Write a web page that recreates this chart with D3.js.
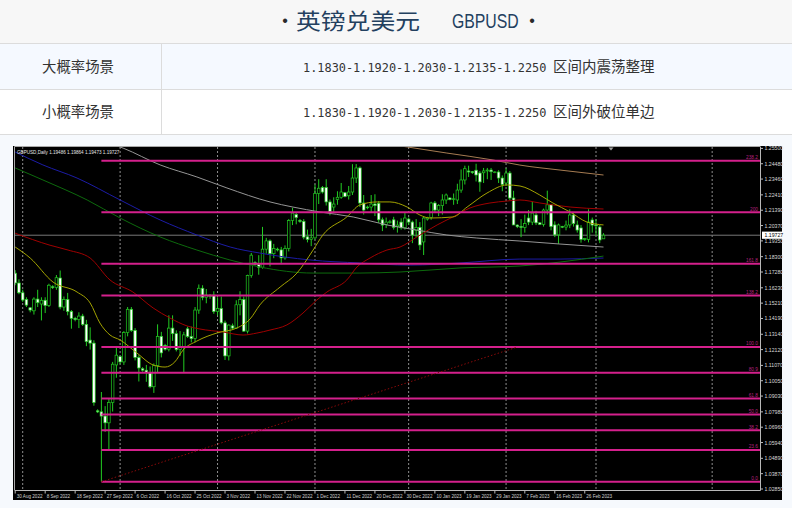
<!DOCTYPE html>
<html><head><meta charset="utf-8">
<script src="https://cdn.jsdelivr.net/npm/d3@7"></script>
<style>html,body{margin:0;padding:0;background:#fff;}svg{display:block;}</style>
</head><body><svg id="c" width="792" height="508"></svg>
<script>
// ---------------- DATA ----------------
const titleCn = '英镑兑美元';
const titleEn = 'GBPUSD';
const rowNames = ['大概率场景', '小概率场景'];
const rowLevels = ['1.1830-1.1920-1.2030-1.2135-1.2250', '1.1830-1.1920-1.2030-1.2135-1.2250'];
const rowViews = ['区间内震荡整理', '区间外破位单边'];

const open = [1.1720,1.1655,1.1590,1.1545,1.1490,1.1470,1.1548,1.1515,1.1540,1.1505,1.1630,1.1625,1.1688,1.1495,1.1545,1.1465,1.1420,1.1412,1.1435,1.1380,1.1275,1.1255,1.0805,1.0798,1.0770,1.0725,1.0860,1.1110,1.1165,1.1130,1.1325,1.1480,1.1340,1.1160,1.1085,1.1075,1.1060,1.0965,1.1105,1.1300,1.1240,1.1215,1.1355,1.1318,1.1212,1.1225,1.1350,1.1300,1.1285,1.1475,1.1620,1.1560,1.1565,1.1575,1.1465,1.1485,1.1390,1.1170,1.1370,1.1355,1.1510,1.1545,1.1335,1.1705,1.1790,1.1778,1.1760,1.1880,1.1935,1.1850,1.1880,1.1875,1.1822,1.1885,1.2070,1.2110,1.2070,1.2065,1.1962,1.1945,1.1955,1.2250,1.2290,1.2290,1.2194,1.2160,1.2210,1.2225,1.2255,1.2235,1.2260,1.2353,1.2420,1.2187,1.2160,1.2160,1.2180,1.2185,1.2075,1.2045,1.2060,1.2075,1.2030,1.2060,1.2022,1.2080,1.2060,1.2005,1.2025,1.1928,1.2080,1.2090,1.2187,1.2140,1.2170,1.2207,1.2220,1.2210,1.2207,1.2273,1.2340,1.2400,1.2395,1.2405,1.2386,1.2388,1.2400,1.2406,1.2390,1.2393,1.2353,1.2320,1.2386,1.2220,1.2040,1.2030,1.2025,1.2087,1.2060,1.2107,1.2055,1.2045,1.2140,1.2175,1.2041,1.1975,1.2030,1.2027,1.2041,1.2107,1.2041,1.2021,1.1945,1.1945,1.2074,1.2041,1.2027,1.19486];
const high = [1.1740,1.1680,1.1610,1.1560,1.1495,1.1560,1.1610,1.1560,1.1560,1.1650,1.1640,1.1708,1.1738,1.1565,1.1589,1.1475,1.1430,1.1460,1.1450,1.1410,1.1360,1.1274,1.0815,1.0930,1.0836,1.0890,1.1130,1.1235,1.1170,1.1335,1.1495,1.1495,1.1355,1.1175,1.1095,1.1110,1.1100,1.1120,1.1380,1.1330,1.1250,1.1440,1.1440,1.1340,1.1335,1.1330,1.1365,1.1365,1.1495,1.1645,1.1640,1.1615,1.1580,1.1600,1.1560,1.1565,1.1405,1.1380,1.1385,1.1540,1.1600,1.1565,1.1710,1.1855,1.1800,1.1840,1.2028,1.1955,1.1945,1.1915,1.1890,1.1895,1.1905,1.2080,1.2155,1.2125,1.2080,1.2080,1.2010,1.2015,1.2310,1.2345,1.2300,1.2345,1.2210,1.2225,1.2265,1.2320,1.2260,1.2300,1.2445,1.2446,1.2430,1.2240,1.2170,1.2240,1.2245,1.2200,1.2090,1.2090,1.2075,1.2095,1.2070,1.2085,1.2120,1.2090,1.2070,1.2080,1.2060,1.2100,1.2095,1.2195,1.2200,1.2180,1.2245,1.2250,1.2225,1.2250,1.2315,1.2410,1.2435,1.2435,1.2400,1.2448,1.2400,1.2420,1.2420,1.2420,1.2398,1.2405,1.2370,1.2418,1.2400,1.2268,1.2045,1.2080,1.2110,1.2140,1.2195,1.2135,1.2060,1.2150,1.2269,1.2180,1.2065,1.2050,1.2035,1.2070,1.2145,1.2120,1.2070,1.2040,1.1955,1.2145,1.2090,1.2080,1.2040,1.19864];
const low = [1.1640,1.1580,1.1530,1.1495,1.1460,1.1445,1.1495,1.1406,1.1455,1.1495,1.1615,1.1610,1.1480,1.1470,1.1440,1.1351,1.1400,1.1355,1.1370,1.1235,1.1212,1.0839,1.0790,1.0333,1.0665,1.0539,1.0800,1.1025,1.1115,1.1110,1.1300,1.1330,1.1140,1.1000,1.1065,1.0998,1.0955,1.0924,1.1060,1.1160,1.1205,1.1200,1.1270,1.1200,1.1170,1.1060,1.1290,1.1260,1.1260,1.1450,1.1540,1.1520,1.1550,1.1450,1.1440,1.1380,1.1143,1.1140,1.1345,1.1350,1.1440,1.1330,1.1320,1.1690,1.1770,1.1710,1.1750,1.1850,1.1765,1.1820,1.1865,1.1780,1.1810,1.1865,1.2040,1.2045,1.2055,1.1945,1.1925,1.1900,1.1945,1.2180,1.2250,1.2170,1.2105,1.2125,1.2175,1.2215,1.2225,1.2210,1.2240,1.2320,1.2160,1.2110,1.2145,1.2125,1.2100,1.2055,1.2000,1.2020,1.2050,1.2010,1.1990,1.2010,1.2010,1.2040,1.1920,1.1960,1.1874,1.1841,1.2070,1.2075,1.2120,1.2100,1.2110,1.2180,1.2205,1.2175,1.2180,1.2255,1.2310,1.2360,1.2380,1.2330,1.2262,1.2320,1.2345,1.2340,1.2385,1.2320,1.2265,1.2300,1.2205,1.2040,1.2020,1.1960,1.1990,1.2040,1.2040,1.2040,1.2040,1.2030,1.2110,1.2005,1.1960,1.1915,1.2020,1.2005,1.2020,1.2030,1.1990,1.1923,1.1935,1.1925,1.1990,1.1970,1.1920,1.19473];
const close = [1.1655,1.1590,1.1542,1.1508,1.1475,1.1548,1.1524,1.1540,1.1505,1.1640,1.1625,1.1690,1.1495,1.1545,1.1465,1.1420,1.1412,1.1435,1.1380,1.1265,1.1255,1.0860,1.0798,1.0770,1.0725,1.0860,1.1115,1.1175,1.1130,1.1325,1.1480,1.1340,1.1160,1.1090,1.1075,1.1060,1.0965,1.1105,1.1300,1.1190,1.1215,1.1355,1.1318,1.1212,1.1225,1.1310,1.1300,1.1285,1.1475,1.1620,1.1560,1.1575,1.1575,1.1465,1.1485,1.1390,1.1170,1.1375,1.1355,1.1510,1.1545,1.1335,1.1705,1.1840,1.1778,1.1760,1.1880,1.1935,1.1850,1.1885,1.1875,1.1822,1.1885,1.2070,1.2120,1.2090,1.2065,1.1960,1.1945,1.1955,1.2250,1.2285,1.2260,1.2194,1.2130,1.2180,1.2225,1.2260,1.2230,1.2260,1.2353,1.2420,1.2187,1.2140,1.2155,1.2180,1.2170,1.2075,1.2040,1.2060,1.2062,1.2025,1.2040,1.2022,1.2087,1.2060,1.1974,1.2025,1.1908,1.2087,1.2088,1.2187,1.2140,1.2170,1.2207,1.2240,1.2210,1.2215,1.2273,1.2340,1.2415,1.2393,1.2390,1.2373,1.2327,1.2400,1.2406,1.2395,1.2393,1.2353,1.2310,1.2386,1.2220,1.2041,1.2030,1.2025,1.2050,1.2060,1.2120,1.2055,1.2045,1.2140,1.2175,1.2030,1.1975,1.2041,1.2027,1.2040,1.2107,1.2050,1.2007,1.1945,1.1950,1.2060,1.2040,1.2035,1.1941,1.19727];

// moving averages: [bar index, price]
const maYellow = [[0,1.1894],[4,1.1821],[10.1,1.1661],[16.5,1.1595],[20,1.1522],[22.6,1.1389],[25.3,1.1309],[28,1.1276],[32.5,1.1189],[36.8,1.1110],[40,1.1096],[42.6,1.1130],[44.8,1.1209],[48.5,1.1269],[53.9,1.1323],[59.2,1.1356],[62.7,1.1416],[65.3,1.1509],[70.7,1.1628],[75.2,1.1721],[79.5,1.1874],[82.1,1.1974],[88.5,1.2094],[92,1.2174],[96.6,1.2194],[100,1.2194],[104.6,1.2160],[108,1.2107],[110.7,1.2087],[116.8,1.2094],[120.6,1.2160],[125.9,1.2253],[131.3,1.2307],[134.7,1.2300],[140,1.2240],[143.5,1.2187],[148.1,1.2127],[152.6,1.2060],[157,1.2041]];
const maRed = [[0,1.1986],[9.3,1.1906],[14.1,1.1874],[20,1.1821],[25.3,1.1675],[31.4,1.1595],[36.8,1.1489],[41.3,1.1422],[45.9,1.1369],[49.3,1.1349],[55.5,1.1329],[60.8,1.1309],[64.5,1.1322],[68,1.1342],[72.5,1.1376],[76.8,1.1455],[80.5,1.1542],[83.2,1.1595],[88.5,1.1675],[91.2,1.1761],[94.7,1.1821],[99.2,1.1874],[102.7,1.1894],[107.2,1.1961],[112.6,1.2041],[116.8,1.2094],[121.4,1.2154],[126.7,1.2187],[131.3,1.2200],[134.7,1.2207],[140,1.2187],[148.1,1.2160],[157,1.2147]];
const maGray = [[22.6,1.2606],[28.8,1.2552],[38.7,1.2440],[48.5,1.2360],[56.5,1.2287],[68,1.2194],[74.1,1.2160],[81.4,1.2127],[90.2,1.2094],[99.2,1.2041],[107.2,1.2007],[115.2,1.1974],[123.2,1.1954],[134.7,1.1934],[145.4,1.1914],[157,1.1894]];
const maBrown = [[97.4,1.2586],[104.8,1.2559],[115.2,1.2519],[127.5,1.2473],[134.7,1.2439],[145.4,1.2406],[157,1.2373]];
const maBlue = [[0,1.2526],[7.4,1.2440],[16.5,1.2353],[28,1.2207],[38.7,1.2074],[48.5,1.1974],[57.4,1.1894],[65.3,1.1854],[78.7,1.1808],[92,1.1788],[105.4,1.1774],[118.7,1.1788],[134.7,1.1814],[145.4,1.1814],[157,1.1821]];
const maGreen = [[0,1.2420],[7.4,1.2340],[19.2,1.2207],[28,1.2087],[38.7,1.1961],[48.5,1.1874],[57.3,1.1808],[65.3,1.1761],[79.5,1.1721],[92,1.1721],[102.7,1.1728],[118.7,1.1755],[134.7,1.1768],[145.4,1.1794],[157,1.1834]];

const dateLabels = ['30 Aug 2022','8 Sep 2022','18 Sep 2022','27 Sep 2022','6 Oct 2022','16 Oct 2022','25 Oct 2022','3 Nov 2022','13 Nov 2022','22 Nov 2022','1 Dec 2022','11 Dec 2022','20 Dec 2022','30 Dec 2022','10 Jan 2023','19 Jan 2023','29 Jan 2023','7 Feb 2023','16 Feb 2023','26 Feb 2023'];
const dateLabelIdx = [0,8,16,24,32,40,48,56,64,72,80,88,96,104,112,120,128,136,144,152];
const priceTicks = [1.25500,1.24480,1.23460,1.22410,1.21390,1.20370,1.19350,1.18300,1.17280,1.16230,1.15210,1.14190,1.13140,1.12120,1.11070,1.10050,1.09030,1.07980,1.06960,1.05940,1.04890,1.03870,1.02850];
const separatorIdx = [2,28,54,80,105,131,155,186];
const fibLevels = [0,23.6,38.2,50,61.8,80.9,100,138.2,161.8,200,238.2];
const fibLabels = ['0.0','23.6','38.2','50.0','61.8','80.9','100.0','138.2','161.8','200','238.2'];
const fibLow = 1.0333, fibHigh = 1.1229, fibStartIdx = 23, fibEndIdx = 134;
const lastPrice = 1.19727;
const headerText = 'GBPUSD,Daily  1.19486 1.19864 1.19473 1.19727';

// ---------------- DRAW ----------------
const svg = d3.select('#c');
const CJK = "'Noto Sans CJK SC','Noto Sans',sans-serif";
const LIB = "'Liberation Sans',Arial,sans-serif";

svg.append('rect').attr('width',792).attr('height',508).attr('fill','#f6f9fd');
svg.append('rect').attr('width',792).attr('height',44).attr('fill','#f7f7f7');
svg.append('rect').attr('y',44).attr('width',792).attr('height',46).attr('fill','#f5f9ff');
svg.append('rect').attr('y',90).attr('width',792).attr('height',45).attr('fill','#ffffff');
[43.5,89.5,134.5].forEach(v=>svg.append('line').attr('x1',0).attr('x2',792).attr('y1',v).attr('y2',v).attr('stroke','#dcdcdc'));
svg.append('line').attr('x1',161.5).attr('x2',161.5).attr('y1',44).attr('y2',135).attr('stroke','#dcdcdc');

// title
const tc = '#23405f';
svg.append('text').attr('x',285).attr('y',26).attr('text-anchor','middle').attr('font-family',LIB).attr('font-size',16).attr('fill','#2a2a2a').text('•');
svg.append('text').attr('x',296).attr('y',29).attr('font-family',CJK).attr('font-size',22).attr('fill',tc)
  .attr('textLength',124).attr('lengthAdjust','spacingAndGlyphs').text(titleCn);
svg.append('text').attr('transform','translate(452,28) scale(0.79,1)').attr('font-family',LIB).attr('font-size',20).attr('fill',tc)
  .text(titleEn);
svg.append('text').attr('x',532).attr('y',26).attr('text-anchor','middle').attr('font-family',LIB).attr('font-size',16).attr('fill','#2a2a2a').text('•');

// table rows
[72,117].forEach((by,i)=>{
  svg.append('text').attr('x',42).attr('y',by).attr('font-family',CJK).attr('font-size',14.5).attr('fill','#333')
    .attr('textLength',72).attr('lengthAdjust','spacingAndGlyphs').text(rowNames[i]);
  svg.append('text').attr('x',303).attr('y',by-0.5).attr('font-family',"'DejaVu Sans Mono',monospace").attr('font-size',11.9).attr('fill','#333')
    .text(rowLevels[i]);
  svg.append('text').attr('x',553).attr('y',by).attr('font-family',CJK).attr('font-size',14.5).attr('fill','#333')
    .text(rowViews[i]);
});

// chart
const PL=15, PT=147, PR=760, PB=490;
const x = d3.scaleLinear().domain([0,157]).range([15.2,603.5]);
const y = d3.scaleLinear().domain([1.0285,1.2550]).range([489,148.4]);
const g = svg.append('g');
g.append('rect').attr('x',13).attr('y',146).attr('width',769).attr('height',354).attr('fill','#000');
svg.append('defs').append('clipPath').attr('id','pc').append('rect').attr('x',PL).attr('y',PT).attr('width',PR-PL).attr('height',PB-PT);

// separators
separatorIdx.forEach(i=>g.append('line').attr('x1',x(i)).attr('x2',x(i)).attr('y1',PT).attr('y2',PB)
  .attr('stroke','#8e8e8e').attr('stroke-dasharray','2,2').attr('stroke-width',1));
// last price line
g.append('line').attr('x1',PL).attr('x2',PR).attr('y1',y(lastPrice)).attr('y2',y(lastPrice)).attr('stroke','#777');

// candles
const cg = g.append('g').attr('clip-path','url(#pc)');
const up = '#22cc22';
open.forEach((o,i)=>{
  const c = close[i], cx = x(i);
  cg.append('line').attr('x1',cx).attr('x2',cx).attr('y1',y(high[i])).attr('y2',y(low[i])).attr('stroke',up).attr('stroke-width',1);
  const top = y(Math.max(o,c)), bot = y(Math.min(o,c));
  cg.append('rect').attr('x',cx-1.3).attr('y',top).attr('width',2.6).attr('height',Math.max(0.6,bot-top))
    .attr('fill', c>=o ? '#000' : '#fff').attr('stroke',up).attr('stroke-width',0.7);
});

// moving averages
const line = d3.line().x(d=>x(d[0])).y(d=>y(d[1])).curve(d3.curveMonotoneX);
[[maGray,'#959595'],[maBrown,'#a67c52'],[maBlue,'#1c1ca6'],[maGreen,'#0d6a0d'],[maRed,'#a00000'],[maYellow,'#a3a300']]
 .forEach(([d,col])=>cg.append('path').attr('d',line(d)).attr('fill','none').attr('stroke',col).attr('stroke-width',1));

// fibonacci
const fibPrice = l => fibLow + l/100*(fibHigh-fibLow);
fibLevels.forEach((l,k)=>{
  const yy = y(fibPrice(l));
  g.append('line').attr('x1',x(fibStartIdx)).attr('x2',PR).attr('y1',yy).attr('y2',yy).attr('stroke','#d4208c').attr('stroke-width',2);
  g.append('text').attr('x',758).attr('y',yy-1.8).attr('text-anchor','end').attr('font-family',LIB)
    .attr('font-size',4.8).attr('fill','#b8207e').text(fibLabels[k]);
});
g.append('line').attr('x1',x(fibStartIdx)).attr('y1',y(fibLow)).attr('x2',x(fibEndIdx)).attr('y2',y(fibHigh))
  .attr('stroke','#8a0a0a').attr('stroke-width',1).attr('stroke-dasharray','1.5,2');

// frame
g.append('line').attr('x1',14.5).attr('x2',14.5).attr('y1',146.5).attr('y2',490).attr('stroke','#a8a8a8');
g.append('line').attr('x1',14.5).attr('x2',760).attr('y1',146.5).attr('y2',146.5).attr('stroke','#a8a8a8');
g.append('line').attr('x1',14.5).attr('x2',760.5).attr('y1',490.5).attr('y2',490.5).attr('stroke','#b8b8b8');
g.append('line').attr('x1',760.5).attr('x2',760.5).attr('y1',146.5).attr('y2',490.5).attr('stroke','#b8b8b8');

// price axis
priceTicks.forEach(p=>{
  g.append('line').attr('x1',760.5).attr('x2',763).attr('y1',y(p)).attr('y2',y(p)).attr('stroke','#bbb');
  g.append('text').attr('x',764.5).attr('y',y(p)).attr('dominant-baseline','central').attr('font-family',LIB)
    .attr('font-size',5.2).attr('fill','#d8d8d8').text(p.toFixed(5));
});
g.append('rect').attr('x',762).attr('y',y(lastPrice)-3.6).attr('width',20).attr('height',7.2).attr('fill','#fff');
g.append('text').attr('x',764.5).attr('y',y(lastPrice)).attr('dominant-baseline','central').attr('font-family',LIB)
  .attr('font-size',5.2).attr('fill','#000').text(lastPrice.toFixed(5));

// date axis
dateLabelIdx.forEach((i,k)=>{
  g.append('line').attr('x1',x(i)).attr('x2',x(i)).attr('y1',490.5).attr('y2',493.5).attr('stroke','#bbb');
  g.append('text').attr('x',x(i)+1.5).attr('y',497.5).attr('font-family',LIB).attr('font-size',4.6).attr('fill','#d0d0d0').text(dateLabels[k]);
});

// header + shift marker
g.append('text').attr('x',17).attr('y',154).attr('font-family',LIB).attr('font-size',4.6).attr('fill','#e6e6e6').text(headerText);
g.append('path').attr('d','M608.5,147.5 L613.5,147.5 L611,150.5 Z').attr('fill','#a0a0a0');
</script></body></html>
